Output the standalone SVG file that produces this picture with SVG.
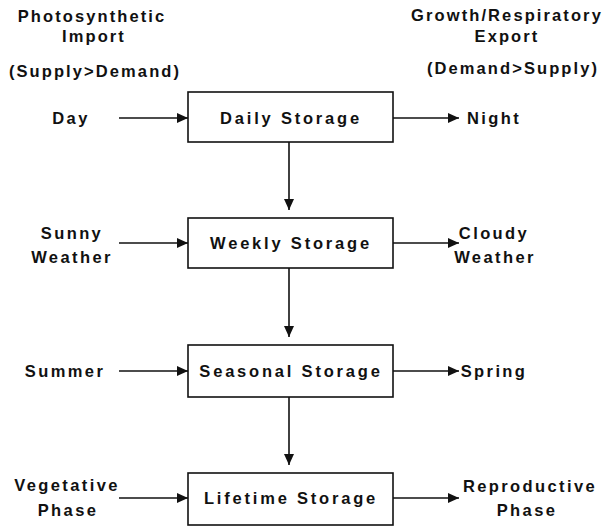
<svg xmlns="http://www.w3.org/2000/svg" width="612" height="527" viewBox="0 0 612 527">
<style>
text{font-family:"Liberation Sans",Arial,sans-serif;font-weight:bold;font-size:16.5px;letter-spacing:2.4px;fill:#111;text-anchor:middle}
.h{letter-spacing:2.1px}
.b{letter-spacing:2.8px}
.box{fill:#fff;stroke:#111;stroke-width:1.6}
.c line{stroke:#111;stroke-width:1.6}
</style>
<defs>
<marker id="ah" viewBox="0 0 11 10" refX="11" refY="5" markerWidth="11" markerHeight="10" markerUnits="userSpaceOnUse" orient="auto">
<path d="M0,0L11,5L0,10z" fill="#111"/>
</marker>
</defs>
<rect width="612" height="527" fill="#fff"/>
<g id="headers">
<text class="h" x="92" y="22">Photosynthetic</text>
<text class="h" x="94" y="42">Import</text>
<text class="h" x="95" y="77">(Supply&gt;Demand)</text>
<text class="h" x="507" y="21">Growth/Respiratory</text>
<text class="h" x="507" y="42">Export</text>
<text class="h" x="513" y="74">(Demand&gt;Supply)</text>
</g>
<g id="daily"><rect class="box" x="188" y="92" width="205" height="50"/><text class="b" x="291" y="124">Daily Storage</text></g>
<g id="weekly"><rect class="box" x="188" y="218" width="205" height="50"/><text class="b" x="291" y="249">Weekly Storage</text></g>
<g id="seasonal"><rect class="box" x="188" y="345" width="205" height="52"/><text class="b" x="291" y="377">Seasonal Storage</text></g>
<g id="lifetime"><rect class="box" x="188" y="473" width="205" height="52"/><text class="b" x="291" y="504">Lifetime Storage</text></g>
<g id="left-labels">
<text x="71" y="124">Day</text>
<text x="72" y="239">Sunny</text>
<text x="72" y="263">Weather</text>
<text x="65" y="377">Summer</text>
<text x="67" y="491">Vegetative</text>
<text x="68" y="516">Phase</text>
</g>
<g id="right-labels">
<text x="494" y="124">Night</text>
<text x="494" y="239">Cloudy</text>
<text x="495" y="263">Weather</text>
<text x="494" y="377">Spring</text>
<text x="530" y="492">Reproductive</text>
<text x="527" y="516">Phase</text>
</g>
<g id="connectors" class="c">
<line x1="119" y1="118" x2="188" y2="118" marker-end="url(#ah)"/>
<line x1="393" y1="118" x2="459" y2="118" marker-end="url(#ah)"/>
<line x1="119" y1="243" x2="188" y2="243" marker-end="url(#ah)"/>
<line x1="393" y1="243" x2="459" y2="243" marker-end="url(#ah)"/>
<line x1="119" y1="371" x2="188" y2="371" marker-end="url(#ah)"/>
<line x1="393" y1="371" x2="459" y2="371" marker-end="url(#ah)"/>
<line x1="119" y1="498" x2="188" y2="498" marker-end="url(#ah)"/>
<line x1="393" y1="498" x2="459" y2="498" marker-end="url(#ah)"/>
<line x1="289" y1="142" x2="289" y2="210" marker-end="url(#ah)"/>
<line x1="289" y1="268" x2="289" y2="337" marker-end="url(#ah)"/>
<line x1="289" y1="397" x2="289" y2="465" marker-end="url(#ah)"/>
</g>
</svg>
